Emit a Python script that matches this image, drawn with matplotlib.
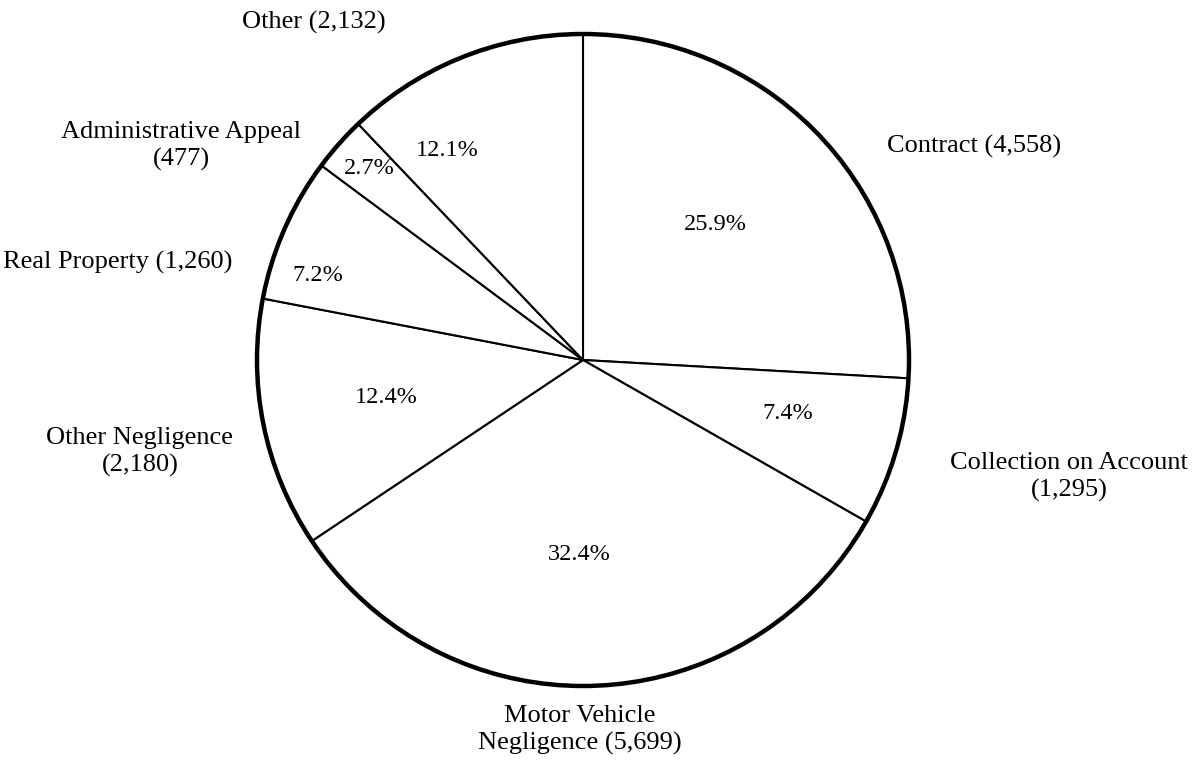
import matplotlib.pyplot as plt
from matplotlib.patches import Circle

# Case categories, clockwise from 12 o'clock
categories = ['Contract', 'Collection on Account', 'Motor Vehicle\nNegligence',
              'Other Negligence', 'Real Property', 'Administrative Appeal', 'Other']
counts = [4558, 1295, 5699, 2180, 1260, 477, 2132]

total = sum(counts)
pcts = [c / total * 100 for c in counts]

# Layout in image pixels (origin top-left) -- label placement only
W, H = 1200, 762
cx, cy, R = 583, 360, 326
name_pos = [(974, 146), (1069, 477), (580, 730), (140, 452), (118, 262), (181, 146), (314, 22)]
name_fmt = ['{} ({:,})', '{}\n({:,})', '{} ({:,})', '{}\n({:,})', '{} ({:,})', '{}\n({:,})', '{} ({:,})']
pct_pos = [(715, 224), (788, 413), (579, 555), (386, 397), (318, 275), (369, 168), (447, 150)]

plt.rcParams['font.family'] = ['Liberation Serif', 'DejaVu Serif']

fig = plt.figure(figsize=(W / 100, H / 100), dpi=100)
ax = fig.add_axes([0, 0, 1, 1])

ax.pie(counts, startangle=90, counterclock=False, radius=1, center=(0, 0),
       colors=['white'] * len(counts),
       wedgeprops=dict(edgecolor='black', linewidth=1.5))
ax.add_patch(Circle((0, 0), 1, fill=False, edgecolor='black', linewidth=3.2, zorder=5))

ax.set_xlim(-cx / R, (W - cx) / R)
ax.set_ylim(-(H - cy) / R, cy / R)
ax.set_aspect('equal')
ax.axis('off')


def to_data(px, py):
    return (px - cx) / R, (cy - py) / R


for name, c, fmt, (px, py) in zip(categories, counts, name_fmt, name_pos):
    x, y = to_data(px, py)
    ax.text(x, y, fmt.format(name, c), ha='center', va='center',
            fontsize=19, linespacing=1.3)

for p, (px, py) in zip(pcts, pct_pos):
    x, y = to_data(px, py)
    ax.text(x, y, f'{p:.1f}%', ha='center', va='center', fontsize=17.5)

fig.savefig('out.png', dpi=100)
